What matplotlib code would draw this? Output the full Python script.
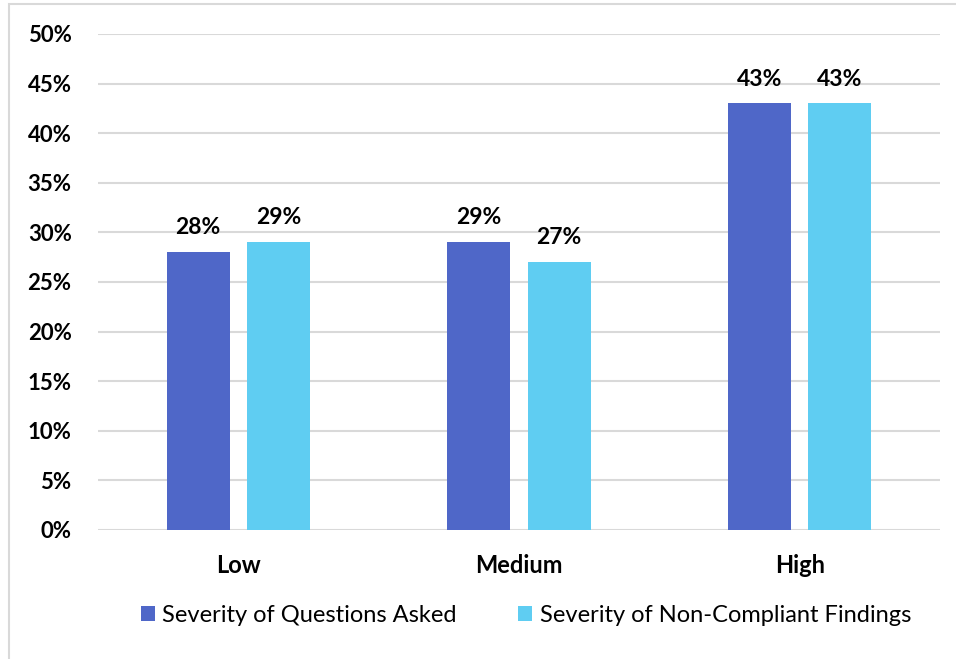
import matplotlib
matplotlib.use("Agg")
import matplotlib.pyplot as plt
from matplotlib.patches import Rectangle
import numpy as np

categories = ["Low", "Medium", "High"]
series_names = ["Severity of Questions Asked", "Severity of Non-Compliant Findings"]
questions_asked = [28, 29, 43]
noncompliant_findings = [29, 27, 43]
y_ticks = [0, 5, 10, 15, 20, 25, 30, 35, 40, 45, 50]

colors = ["#4F67C8", "#5FCDF2"]
plt.rcParams["font.family"] = ["Lato", "DejaVu Sans"]

fig = plt.figure(figsize=(9.56, 6.59), dpi=100)
ax = fig.add_axes([98 / 956, 1 - 530 / 659, 842 / 956, 496 / 659])

# outer chart frame
fig.patches.append(Rectangle((9 / 956, -0.05), 1.2, 1 - 4 / 659 + 0.05,
                             transform=fig.transFigure, fill=False,
                             edgecolor="#D9D9D9", linewidth=1.5))

x = np.arange(len(categories))
width = 0.224
offset = 0.143
for vals, off, col, name in [(questions_asked, -offset, colors[0], series_names[0]),
                             (noncompliant_findings, offset, colors[1], series_names[1])]:
    bars = ax.bar(x + off, vals, width, color=col, label=name, zorder=3)
    for b, v in zip(bars, vals):
        ax.text(b.get_x() + b.get_width() / 2, v + 1.4, f"{v}%",
                ha="center", va="bottom", fontsize=16.5, fontweight="bold",
                color="#000000", zorder=4)

ax.set_xlim(-0.5, 2.5)
ax.set_ylim(0, 50)
ax.set_yticks(y_ticks)
ax.set_yticklabels([f"{t}%" for t in y_ticks], fontsize=16, fontweight="bold")
ax.set_xticks(x)
ax.set_xticklabels(categories, fontsize=17, fontweight="bold")
ax.tick_params(axis="both", length=0)
ax.tick_params(axis="y", pad=19)
ax.tick_params(axis="x", pad=17)
ax.grid(axis="y", color="#D9D9D9", linewidth=1.5, zorder=0)
for s in ax.spines.values():
    s.set_visible(False)

handles, labels = ax.get_legend_handles_labels()
fig.legend(handles, labels, loc="center", bbox_to_anchor=(526 / 956, 1 - 615 / 659),
           ncol=2, frameon=False, fontsize=17, handlelength=0.6, handleheight=0.6,
           handletextpad=0.3, columnspacing=2.6)

fig.savefig("out.png", dpi=100)
